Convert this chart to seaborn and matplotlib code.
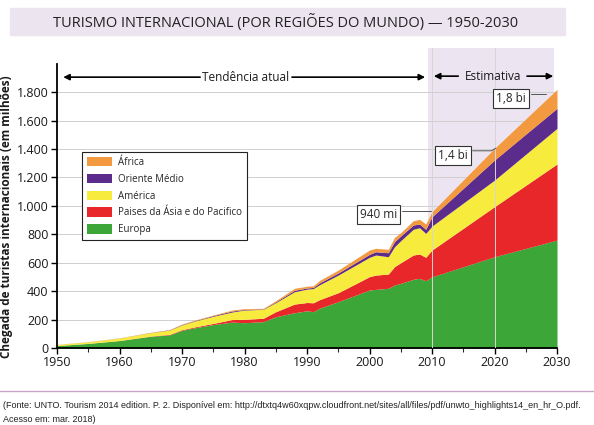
import matplotlib
matplotlib.use("Agg")
import matplotlib.pyplot as plt
import seaborn as sns
from matplotlib.patches import Patch, Rectangle
from matplotlib.lines import Line2D
from matplotlib.ticker import FuncFormatter, MultipleLocator

# dados (milhões de chegadas)
anos = [1950, 1955, 1960, 1965, 1968, 1970, 1972, 1975, 1978, 1980, 1983, 1985,
        1988, 1990, 1991, 1992, 1995, 2000, 2001, 2003, 2004, 2005, 2007, 2008,
        2009, 2010, 2020, 2030]
europa = [17, 32, 52, 82, 92, 124, 142, 165, 182, 178, 185, 220,
          248, 262, 255, 280, 326, 408, 412, 420, 443, 455, 483, 490,
          473, 501, 642, 759]
asia_pacifico = [0.3, 0.7, 1, 2, 4, 5, 6, 8, 18, 24, 24, 35,
                 61, 58, 63, 60, 63, 94, 101, 100, 129, 145, 171, 171,
                 165, 188, 352, 535]
america = [7.5, 11, 17, 24, 30, 33, 41, 50, 53, 65, 63, 64,
           87, 94, 100, 105, 124, 136, 141, 122, 140, 155, 181, 185,
           168, 169, 187, 251]
oriente_medio = [0.2, 0.5, 0.6, 1, 2, 3, 3, 5, 7, 4, 3, 6,
                 10, 8, 8, 13, 15, 21, 23, 28, 36, 33, 30, 26,
                 29, 65, 141, 141]
africa = [0.5, 0.8, 0.8, 1.5, 2, 4, 4, 4, 7, 6, 4, 8,
          14, 12, 12, 17, 20, 30, 24, 24, 30, 23, 30, 33,
          37, 35, 82, 133]

regioes = ["Europa", "Paises da Ásia e do Pacifico", "América", "Oriente Médio", "África"]
cores = ["#3da638", "#e8272b", "#f7ec3d", "#5b2c8b", "#f39a40"]

sns.set_theme(style="white")
plt.rcParams["font.family"] = ["Open Sans", "DejaVu Sans"]

fig = plt.figure(figsize=(5.94, 4.25), dpi=100)
ax = fig.add_axes([57 / 594, 1 - 348 / 425, 500 / 594, 300 / 425])
ax.set_facecolor("none")

# faixa do título
fig.add_artist(Rectangle((10 / 594, 1 - 35 / 425), 555 / 594, 27 / 425,
                         transform=fig.transFigure, color="#ece4ef", zorder=0))
fig.text(286 / 594, 1 - 22 / 425, "TURISMO INTERNACIONAL (POR REGIÕES DO MUNDO) — 1950-2030",
         ha="center", va="center", fontsize=10.5, color="#222222")

# área de estimativa
ax.axvspan(2009.4, 2029.5, color="#ece4f0", zorder=0, lw=0)

for v in range(200, 2000, 200):
    ax.axhline(v, color="#cfcfcf", lw=0.7, zorder=1)

ax.stackplot(anos, europa, asia_pacifico, america, oriente_medio, africa,
             colors=cores, lw=0, zorder=2)

ax.vlines([2010, 2020], 0, 2110, color="#d6d6d6", lw=0.7, zorder=3)

ax.set_xlim(1950, 2030)
ax.set_ylim(0, 2110)
ax.xaxis.set_major_locator(MultipleLocator(10))
ax.xaxis.set_minor_locator(MultipleLocator(5))
ax.set_yticks(range(0, 2000, 200))
ax.yaxis.set_major_formatter(FuncFormatter(lambda v, p: f"{int(v):,}".replace(",", ".")))
ax.tick_params(axis="both", which="major", direction="out", length=4, width=1,
               labelsize=9, color="black", labelcolor="#1a1a1a", pad=2,
               bottom=True, left=True)
ax.tick_params(axis="x", which="minor", direction="out", length=3, width=0.8, bottom=True)

for s in ["top", "right"]:
    ax.spines[s].set_visible(False)
for s in ["left", "bottom"]:
    ax.spines[s].set_color("black")
    ax.spines[s].set_linewidth(1.3)
ax.spines["left"].set_bounds(0, 2000)

ax.set_ylabel("Chegada de turistas internacionais (em milhões)", fontsize=8.5,
              fontweight="bold", color="#1a1a1a")
ax.yaxis.set_label_coords(-0.088, 0.437)

# setas
seta = dict(arrowstyle="-|>", color="black", lw=1.2, mutation_scale=9, shrinkA=0, shrinkB=0)
ax.text(1980.1, 1905, "Tendência atual", ha="center", va="center", fontsize=8.5, color="#1a1a1a")
ax.annotate("", xy=(1951, 1905), xytext=(1972.9, 1905), arrowprops=seta)
ax.annotate("", xy=(2008.9, 1905), xytext=(1987.6, 1905), arrowprops=seta)
ax.text(2019.7, 1912, "Estimativa", ha="center", va="center", fontsize=8.5, color="#1a1a1a")
ax.annotate("", xy=(2010.3, 1912), xytext=(2014.2, 1912), arrowprops=seta)
ax.annotate("", xy=(2029.4, 1912), xytext=(2025.2, 1912), arrowprops=seta)

# rótulos de total
caixa = dict(boxstyle="square,pad=0.25", fc="white", ec="#333333", lw=0.8)
ax.text(2001.5, 940, "940 mi", ha="center", va="center", fontsize=8.5, bbox=caixa, zorder=5)
ax.plot([2005.2, 2009.8], [963, 963], color="#555555", lw=0.7, zorder=4)
ax.text(2013.4, 1357, "1,4 bi", ha="center", va="center", fontsize=8.5, bbox=caixa, zorder=5)
ax.plot([2016.5, 2019.5, 2020.2], [1387, 1387, 1405], color="#555555", lw=0.7, zorder=4)
ax.text(2022.6, 1754, "1,8 bi", ha="center", va="center", fontsize=8.5, bbox=caixa, zorder=5)
ax.plot([2025.8, 2028.2], [1784, 1784], color="#555555", lw=0.7, zorder=4)

# legenda
ordem = [4, 3, 2, 1, 0]
handles = [Patch(facecolor=cores[i], edgecolor="none", label=regioes[i]) for i in ordem]
leg = ax.legend(handles=handles, loc="upper left", bbox_to_anchor=(0.05, 0.653),
                fontsize=7.0, frameon=True, fancybox=False, framealpha=1,
                edgecolor="#222222", handlelength=2.6, handleheight=1.1,
                labelspacing=0.6, borderpad=0.5, handletextpad=0.6, borderaxespad=0)
leg.get_frame().set_linewidth(0.8)
leg.set_zorder(6)

# rodapé
fig.add_artist(Line2D([0, 1], [1 - 391 / 425, 1 - 391 / 425], transform=fig.transFigure,
                      color="#c9a5c8", lw=1))
fonte = ("(Fonte: UNTO. Tourism 2014 edition. P. 2. Disponível em: "
         "http://dtxtq4w60xqpw.cloudfront.net/sites/all/files/pdf/unwto_highlights14_en_hr_O.pdf.")
fig.text(3 / 594, 1 - 406 / 425, fonte, ha="left", va="center", fontsize=6.45,
         family=["Liberation Sans Narrow", "Liberation Sans"], color="#222222")
fig.text(3 / 594, 1 - 419 / 425, "Acesso em: mar. 2018)", ha="left", va="center", fontsize=6.45,
         family=["Liberation Sans Narrow", "Liberation Sans"], color="#222222")

fig.savefig("out.png", dpi=100, facecolor="white")
